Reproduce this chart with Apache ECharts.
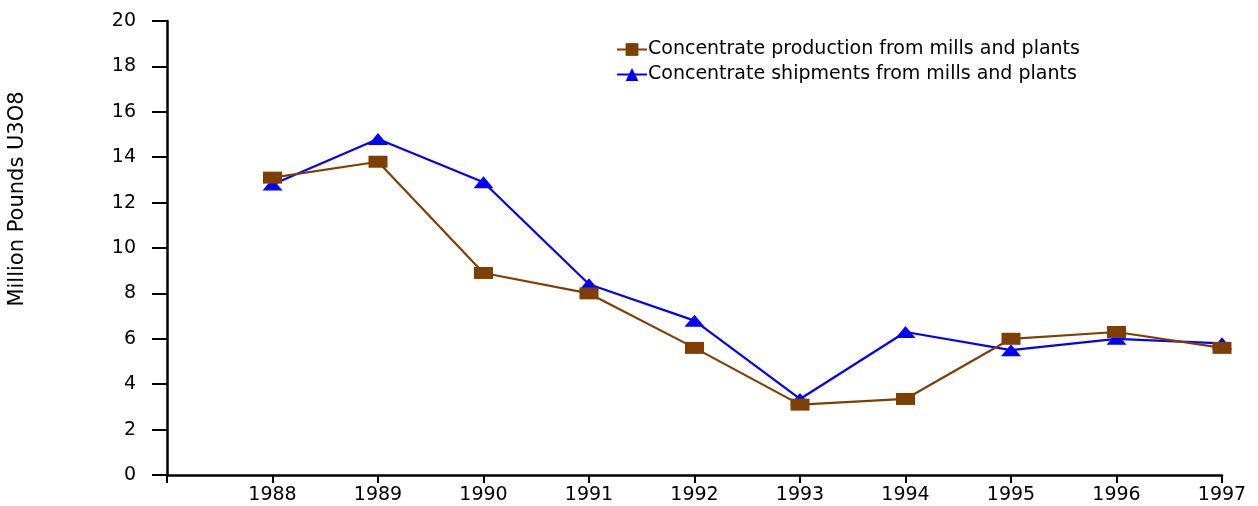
<!DOCTYPE html>
<html><head><meta charset="utf-8">
<script src="https://cdn.jsdelivr.net/npm/echarts@6/dist/echarts.min.js"></script>
<style>html,body{margin:0;padding:0;background:#fff}#c{width:1258px;height:506px}</style>
</head><body><div id="c"></div>
<script>
const years = [1988,1989,1990,1991,1992,1993,1994,1995,1996,1997];
const production = [13.1,13.8,8.9,8.0,5.6,3.1,3.35,6.0,6.3,5.6];
const shipments = [12.8,14.8,12.9,8.4,6.8,3.35,6.3,5.5,6.0,5.8];
const seriesNames = ['Concentrate production from mills and plants','Concentrate shipments from mills and plants'];
const yTitle = 'Million Pounds U3O8';
const font = 'DejaVu Sans';
const chart = echarts.init(document.getElementById('c'), null, {renderer:'canvas'});
chart.setOption({
  animation:false,
  backgroundColor:'#fff',
  grid:{left:167,right:36,top:21,bottom:31,containLabel:false},
  legend:{
    orient:'vertical', left:611, top:35, itemGap:6, itemWidth:30, itemHeight:16,
    textStyle:{fontFamily:font,fontSize:19,color:'#000',padding:[0,0,0,-4]},
    data:seriesNames
  },
  xAxis:{
    type:'value', min:1987, max:1997, interval:1,
    axisLine:{lineStyle:{color:'#000',width:2.5}},
    axisTick:{length:8,lineStyle:{color:'#000',width:2}},
    axisLabel:{fontFamily:font,fontSize:19,color:'#000',margin:11,
      formatter:v=>v<years[0]?'':String(v)},
    splitLine:{show:false}
  },
  yAxis:{
    type:'value', min:0, max:20, interval:2,
    axisLine:{show:true,lineStyle:{color:'#000',width:2.5}},
    axisTick:{show:true,length:15,lineStyle:{color:'#000',width:2}},
    axisLabel:{fontFamily:font,fontSize:19,color:'#000',margin:31},
    splitLine:{show:false}
  },
  graphic:[{type:'text',x:18,y:199,rotation:Math.PI/2,
    style:{text:yTitle,fontFamily:font,fontSize:21,fill:'#000',align:'center',verticalAlign:'middle'}}],
  series:[
    {name:seriesNames[0],type:'line',data:years.map((y,i)=>[y,production[i]]),
     symbol:'rect',symbolSize:[19,12],itemStyle:{color:'#7F3F00'},lineStyle:{color:'#7F3F00',width:2.2},z:3},
    {name:seriesNames[1],type:'line',data:years.map((y,i)=>[y,shipments[i]]),
     symbol:'triangle',symbolSize:[20,12],itemStyle:{color:'#0000FF'},lineStyle:{color:'#0000FF',width:2.2},z:2}
  ]
});
</script></body></html>
